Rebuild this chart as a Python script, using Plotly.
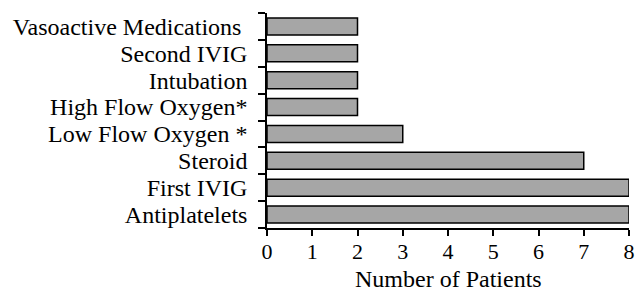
import plotly.graph_objects as go

categories = ["Antiplatelets", "First IVIG", "Steroid", "Low Flow Oxygen *",
              "High Flow Oxygen*", "Intubation", "Second IVIG", "Vasoactive Medications "]
values = [8, 8, 7, 3, 2, 2, 2, 2]
x_ticks = [0, 1, 2, 3, 4, 5, 6, 7, 8]
x_title = "Number of Patients"

FONT = "Liberation Serif, Times New Roman, serif"
FS = 24

fig = go.Figure(go.Bar(
    x=values, y=categories, orientation="h",
    marker=dict(color="#a6a6a6", line=dict(color="black", width=1.5)),
))
fig.update_layout(
    width=635, height=290,
    margin=dict(l=267, r=6, t=13, b=62),
    plot_bgcolor="white", paper_bgcolor="white",
    bargap=0.37,
    showlegend=False,
    font=dict(family=FONT, size=FS, color="black"),
)
fig.update_xaxes(
    range=[0, 8.0001], tickmode="array", tickvals=x_ticks,
    ticktext=[str(v) for v in x_ticks],
    showgrid=False, zeroline=False,
    showline=True, linecolor="black", linewidth=1.5,
    ticks="outside", ticklen=6, tickwidth=1.5, tickcolor="black",
    tickfont=dict(size=22), automargin=False, ticklabelstandoff=-3,
)
fig.update_yaxes(
    type="category", categoryorder="array", categoryarray=categories,
    tickmode="array", tickvals=categories, ticktext=categories,
    showgrid=False, zeroline=False,
    showline=True, linecolor="black", linewidth=1.5,
    ticks="outside", ticklen=7, tickwidth=1.5, tickcolor="black",
    tickson="boundaries", tickfont=dict(size=FS), automargin=False,
    ticklabelstandoff=13,
)
fig.add_annotation(
    text=x_title, xref="paper", yref="paper", x=0.5, y=0,
    xanchor="center", yanchor="middle", yshift=-51, showarrow=False,
    font=dict(size=FS, family=FONT, color="black"),
)
fig.write_html(
    "out.html",
    config={"displayModeBar": False},
    post_script="document.body.style.margin='0';document.body.style.overflow='hidden';",
)
